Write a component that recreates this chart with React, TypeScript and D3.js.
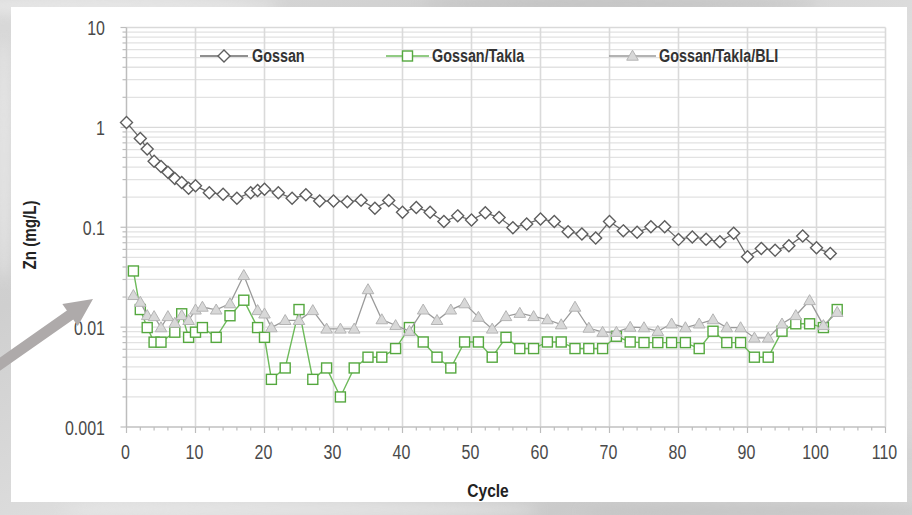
import React from 'react';
import * as d3 from 'd3';

// ---- Data ----
const gossanCycle = [0, 2, 3, 4, 5, 6, 7, 8, 9, 10, 12, 14, 16, 18, 19, 20, 22, 24, 26, 28, 30, 32, 34, 36, 38, 40, 42, 44, 46, 48, 50, 52, 54, 56, 58, 60, 62, 64, 66, 68, 70, 72, 74, 76, 78, 80, 82, 84, 86, 88, 90, 92, 94, 96, 98, 100, 102];
const gossanZn = [1.12, 0.775, 0.607, 0.459, 0.406, 0.356, 0.307, 0.28, 0.246, 0.26, 0.222, 0.214, 0.195, 0.222, 0.233, 0.24, 0.222, 0.195, 0.211, 0.183, 0.183, 0.18, 0.186, 0.155, 0.185, 0.141, 0.158, 0.141, 0.114, 0.13, 0.118, 0.14, 0.125, 0.099, 0.108, 0.121, 0.114, 0.09, 0.0855, 0.078, 0.114, 0.092, 0.089, 0.101, 0.101, 0.0756, 0.08, 0.076, 0.0715, 0.087, 0.0506, 0.0614, 0.059, 0.0652, 0.0816, 0.0622, 0.0547];

const taklaCycle = [1, 2, 3, 4, 5, 7, 8, 9, 10, 11, 13, 15, 17, 19, 20, 21, 23, 25, 27, 29, 31, 33, 35, 37, 39, 41, 43, 45, 47, 49, 51, 53, 55, 57, 59, 61, 63, 65, 67, 69, 71, 73, 75, 77, 79, 81, 83, 85, 87, 89, 91, 93, 95, 97, 99, 101, 103];
const taklaZn = [0.0365, 0.015, 0.0099, 0.00707, 0.00707, 0.0089, 0.0136, 0.0079, 0.0089, 0.0099, 0.0079, 0.013, 0.0186, 0.0099, 0.0079, 0.003, 0.0039, 0.015, 0.003, 0.0039, 0.002, 0.0039, 0.005, 0.005, 0.0061, 0.0099, 0.0071, 0.005, 0.0039, 0.0071, 0.0071, 0.005, 0.0079, 0.0061, 0.0061, 0.0071, 0.0071, 0.0061, 0.0061, 0.0061, 0.0081, 0.0071, 0.007, 0.007, 0.007, 0.007, 0.0061, 0.0091, 0.007, 0.007, 0.005, 0.005, 0.0091, 0.0108, 0.0108, 0.0099, 0.015];

const bliCycle = [1, 2, 3, 4, 5, 6, 7, 8, 9, 10, 11, 13, 15, 17, 19, 20, 21, 23, 25, 27, 29, 31, 33, 35, 37, 39, 41, 43, 45, 47, 49, 51, 53, 55, 57, 59, 61, 63, 65, 67, 69, 71, 73, 75, 77, 79, 81, 83, 85, 87, 89, 91, 93, 95, 97, 99, 101, 103];
const bliZn = [0.0208, 0.0178, 0.0131, 0.0128, 0.0099, 0.0128, 0.011, 0.0131, 0.0117, 0.0149, 0.0159, 0.0149, 0.0172, 0.033, 0.0147, 0.0136, 0.0099, 0.0117, 0.0117, 0.0147, 0.0096, 0.0096, 0.0096, 0.0238, 0.0119, 0.0104, 0.0091, 0.0149, 0.0117, 0.0149, 0.0172, 0.0126, 0.0096, 0.0128, 0.0138, 0.0128, 0.0119, 0.0106, 0.0159, 0.0098, 0.0089, 0.0089, 0.01, 0.0099, 0.0091, 0.0108, 0.0099, 0.0108, 0.0119, 0.0099, 0.0099, 0.0078, 0.0078, 0.0108, 0.0131, 0.0185, 0.0104, 0.0141];

const xTicks = [0, 10, 20, 30, 40, 50, 60, 70, 80, 90, 100, 110];
const yTicks = [0.001, 0.01, 0.1, 1, 10];
const yTickLabels = ['0.001', '0.01', '0.1', '1', '10'];
const seriesNames = ['Gossan', 'Gossan/Takla', 'Gossan/Takla/BLI'];
const xTitle = 'Cycle';
const yTitle = 'Zn (mg/L)';

const FONT = "'Liberation Sans',Arial,sans-serif";
const NARROW = 0.82;

const diamondPath = 'M0,-6L6,0L0,6L-6,0Z';
const trianglePath = 'M0,-5.8L5.8,4.2L-5.8,4.2Z';

function Marker({ kind, cx, cy }: { kind: string; cx: number; cy: number }) {
  if (kind === 'diamond')
    return <path d={diamondPath} transform={`translate(${cx},${cy})`} fill="#fff" stroke="#5e5e5e" strokeWidth={1.4} />;
  if (kind === 'square')
    return <rect x={cx - 5} y={cy - 5} width={10} height={10} fill="#fff" stroke="#55a83f" strokeWidth={1.4} />;
  return <path d={trianglePath} transform={`translate(${cx},${cy})`} fill="#d8d8d8" stroke="#b4b4b4" strokeWidth={1} />;
}

function NText({
  x, y, size, anchor = 'start', weight = 'normal', fill = '#444', rotate = 0, children,
}: {
  x: number; y: number; size: number; anchor?: string; weight?: string; fill?: string; rotate?: number; children: React.ReactNode;
}) {
  return (
    <g transform={`translate(${x},${y}) rotate(${rotate}) scale(${NARROW},1)`}>
      <text dy="0.35em" textAnchor={anchor as any} fontSize={size} fontWeight={weight} fill={fill}>
        {children}
      </text>
    </g>
  );
}

export default function App() {
  const x = d3.scaleLinear().domain([0, 110]).range([126.5, 885.5]);
  const y = d3.scaleLog().domain([0.001, 10]).range([427, 27.5]);

  const minorY: number[] = [];
  [0.001, 0.01, 0.1, 1].forEach((d) => {
    for (let k = 2; k <= 9; k++) minorY.push(d * k);
  });
  const minorX = d3.range(0, 111, 2).filter((v) => v % 10 !== 0);

  const line = d3
    .line<[number, number]>()
    .x((d) => x(d[0]))
    .y((d) => y(d[1]));

  const series = [
    { name: seriesNames[0], xs: gossanCycle, ys: gossanZn, color: '#6a6a6a', kind: 'diamond', lw: 1.3 },
    { name: seriesNames[1], xs: taklaCycle, ys: taklaZn, color: '#6dba5a', kind: 'square', lw: 1.4 },
    { name: seriesNames[2], xs: bliCycle, ys: bliZn, color: '#9a9a9a', kind: 'triangle', lw: 1.3 },
  ];

  const legend = [
    { x1: 200, x2: 248, tx: 252 },
    { x1: 386, x2: 429, tx: 432 },
    { x1: 609, x2: 656, tx: 659 },
  ];
  const legendY = 56;

  // arrow geometry (decoration)
  const ang = (-35 * Math.PI) / 180;
  const ux = Math.cos(ang), uy = Math.sin(ang);
  const nx = -uy, ny = ux;
  const tip: [number, number] = [93, 299];
  const headL = 28, headW = 13.5, shaftW = 5.5, totalL = 135;
  const bx = tip[0] - headL * ux, by = tip[1] - headL * uy;
  const sx = tip[0] - totalL * ux, sy = tip[1] - totalL * uy;
  const arrowPts = [
    tip,
    [bx + headW * nx, by + headW * ny],
    [bx + shaftW * nx, by + shaftW * ny],
    [sx + shaftW * nx, sy + shaftW * ny],
    [sx - shaftW * nx, sy - shaftW * ny],
    [bx - shaftW * nx, by - shaftW * ny],
    [bx - headW * nx, by - headW * ny],
  ]
    .map((p) => p.join(','))
    .join(' ');

  const [plotL, plotR] = x.range();
  const plotB = y(0.001), plotT = y(10);

  return (
    <svg width={912} height={515} style={{ position: 'absolute', left: 0, top: 0 }} fontFamily={FONT}>
      <defs>
        <linearGradient id="bg" x1="0" y1="0" x2="1" y2="1">
          <stop offset="0" stopColor="#d9d9d9" />
          <stop offset="0.3" stopColor="#cfcfcf" />
          <stop offset="0.55" stopColor="#dedede" />
          <stop offset="0.8" stopColor="#cacaca" />
          <stop offset="1" stopColor="#d6d6d6" />
        </linearGradient>
        <filter id="blur" x="-50%" y="-50%" width="200%" height="200%">
          <feGaussianBlur stdDeviation="6" />
        </filter>
      </defs>
      <rect x={0} y={0} width={912} height={515} fill="url(#bg)" />
      <g filter="url(#blur)" opacity={0.6}>
        <ellipse cx={120} cy={6} rx={160} ry={10} fill="#f0f0f0" />
        <ellipse cx={620} cy={4} rx={200} ry={8} fill="#bdbdbd" />
        <ellipse cx={300} cy={510} rx={240} ry={9} fill="#ececec" />
        <ellipse cx={760} cy={512} rx={180} ry={8} fill="#bfbfbf" />
        <ellipse cx={4} cy={160} rx={8} ry={120} fill="#efefef" />
        <ellipse cx={910} cy={300} rx={6} ry={150} fill="#ededed" />
      </g>
      <rect x={11} y={7} width={896} height={495} fill="#ffffff" />

      {/* gridlines */}
      <g stroke="#e2e2e2" strokeWidth={1.3} fill="none">
        {minorY.map((v) => (
          <line key={'my' + v} x1={plotL} x2={plotR} y1={y(v)} y2={y(v)} />
        ))}
        {yTicks.map((v) => (
          <line key={'gy' + v} x1={plotL} x2={plotR} y1={y(v)} y2={y(v)} stroke="#d9d9d9" />
        ))}
        {xTicks.map((v) => (
          <line key={'gx' + v} x1={x(v)} x2={x(v)} y1={plotT} y2={plotB} stroke="#dadada" strokeWidth={1.6} />
        ))}
      </g>

      {/* axes */}
      <g stroke="#bdbdbd" strokeWidth={1.2}>
        <line x1={plotL} x2={plotL} y1={plotT} y2={plotB} />
        <line x1={plotL} x2={plotR} y1={plotB} y2={plotB} />
        {yTicks.map((v) => (
          <line key={'ty' + v} x1={plotL - 6} x2={plotL} y1={y(v)} y2={y(v)} />
        ))}
        {minorY.map((v) => (
          <line key={'tmy' + v} x1={plotL - 4} x2={plotL} y1={y(v)} y2={y(v)} />
        ))}
        {xTicks.map((v) => (
          <line key={'tx' + v} x1={x(v)} x2={x(v)} y1={plotB} y2={plotB + 6} />
        ))}
        {minorX.map((v) => (
          <line key={'tmx' + v} x1={x(v)} x2={x(v)} y1={plotB} y2={plotB + 3.5} />
        ))}
      </g>

      {/* tick labels */}
      {yTicks.map((v, i) => (
        <NText key={'ly' + v} x={105} y={y(v) + 1} size={19.5} anchor="end" fill="#4a4a4a">
          {yTickLabels[i]}
        </NText>
      ))}
      {xTicks.map((v) => (
        <NText key={'lx' + v} x={x(v) - 1} y={452} size={19.5} anchor="middle" fill="#4a4a4a">
          {v}
        </NText>
      ))}

      {/* axis titles */}
      <NText x={488} y={490} size={19} anchor="middle" weight="bold" fill="#222">
        {xTitle}
      </NText>
      <NText x={30} y={235} size={18.5} anchor="middle" weight="bold" fill="#222" rotate={-90}>
        {yTitle}
      </NText>

      {/* series */}
      {series.map((s) => {
        const pts: [number, number][] = s.xs.map((c, i) => [c, s.ys[i]]);
        return (
          <g key={s.name}>
            <path d={line(pts) || ''} fill="none" stroke={s.color} strokeWidth={s.lw} />
            {pts.map((p, i) => (
              <Marker key={i} kind={s.kind} cx={x(p[0])} cy={y(p[1])} />
            ))}
          </g>
        );
      })}

      {/* legend */}
      {series.map((s, i) => (
        <g key={'lg' + s.name}>
          <line x1={legend[i].x1} x2={legend[i].x2} y1={legendY} y2={legendY} stroke={s.color} strokeWidth={1.4} />
          <Marker kind={s.kind} cx={(legend[i].x1 + legend[i].x2) / 2} cy={legendY} />
          <NText x={legend[i].tx} y={legendY} size={17.5} weight="bold" fill="#333">
            {s.name}
          </NText>
        </g>
      ))}

      {/* arrow */}
      <polygon points={arrowPts} fill="#aeaaaa" />
    </svg>
  );
}
